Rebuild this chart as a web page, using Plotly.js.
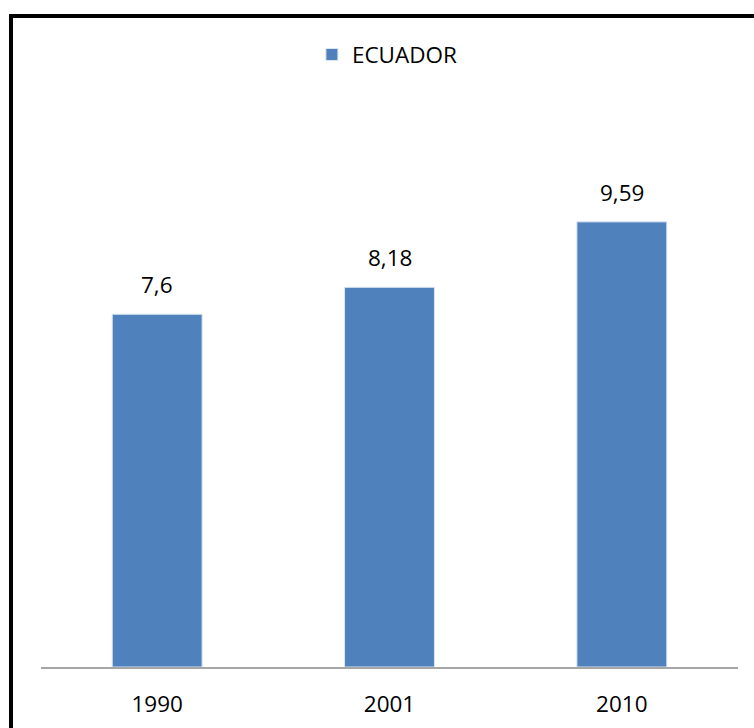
<!DOCTYPE html>
<html>
<head>
<meta charset="utf-8">
<script src="https://cdn.plot.ly/plotly-3.0.1.min.js"></script>
<style>
  html, body { margin: 0; padding: 0; background: #fff; }
  #wrap { position: relative; width: 754px; height: 728px; overflow: hidden; }
  #chart { position: absolute; left: 0; top: 0; width: 754px; height: 728px; }
  #frame { position: absolute; left: 9px; top: 14px; width: 780px; height: 760px;
           border: 4px solid #000; box-sizing: border-box; pointer-events: none; }
</style>
</head>
<body>
<div id="wrap">
  <div id="chart"></div>
  <div id="frame"></div>
</div>
<script>
const categories = ["1990", "2001", "2010"];
const values = [7.6, 8.18, 9.59];
const seriesName = "ECUADOR";

const fontFam = "Open Sans, Liberation Sans, sans-serif";
const fontSize = 22.5;

const trace = {
  type: "bar",
  name: seriesName,
  x: categories,
  y: values,
  marker: { color: "#4F81BD", line: { color: "#DCE6F2", width: 1 } },
  showlegend: true
};

const annotations = categories.map((c, i) => ({
  x: i, y: values[i], xref: "x", yref: "y",
  text: String(values[i]).replace(".", ","),
  showarrow: false, yanchor: "bottom", yshift: 12,
  font: { family: fontFam, size: fontSize, color: "#000" }
}));

const layout = {
  width: 754, height: 728,
  margin: { l: 41, r: 16, t: 110, b: 61 },
  paper_bgcolor: "#fff", plot_bgcolor: "#fff",
  bargap: 0.613,
  showlegend: true,
  legend: {
    orientation: "h", x: 0.497, xanchor: "center",
    y: 1.099, yanchor: "middle",
    font: { family: fontFam, size: fontSize, color: "#000" }
  },
  xaxis: {
    type: "category",
    range: [-0.5, 2.5],
    showline: true, linecolor: "#A6A6A6", linewidth: 2,
    showgrid: false, zeroline: false,
    ticks: "outside", ticklen: 16, tickcolor: "rgba(0,0,0,0)",
    tickfont: { family: fontFam, size: fontSize, color: "#000" }
  },
  yaxis: {
    range: [0, 12], showticklabels: false, showline: false,
    showgrid: false, zeroline: false, ticks: ""
  },
  annotations: annotations,
  font: { family: fontFam }
};

Plotly.newPlot("chart", [trace], layout, { displayModeBar: false, staticPlot: true });
</script>
</body>
</html>
